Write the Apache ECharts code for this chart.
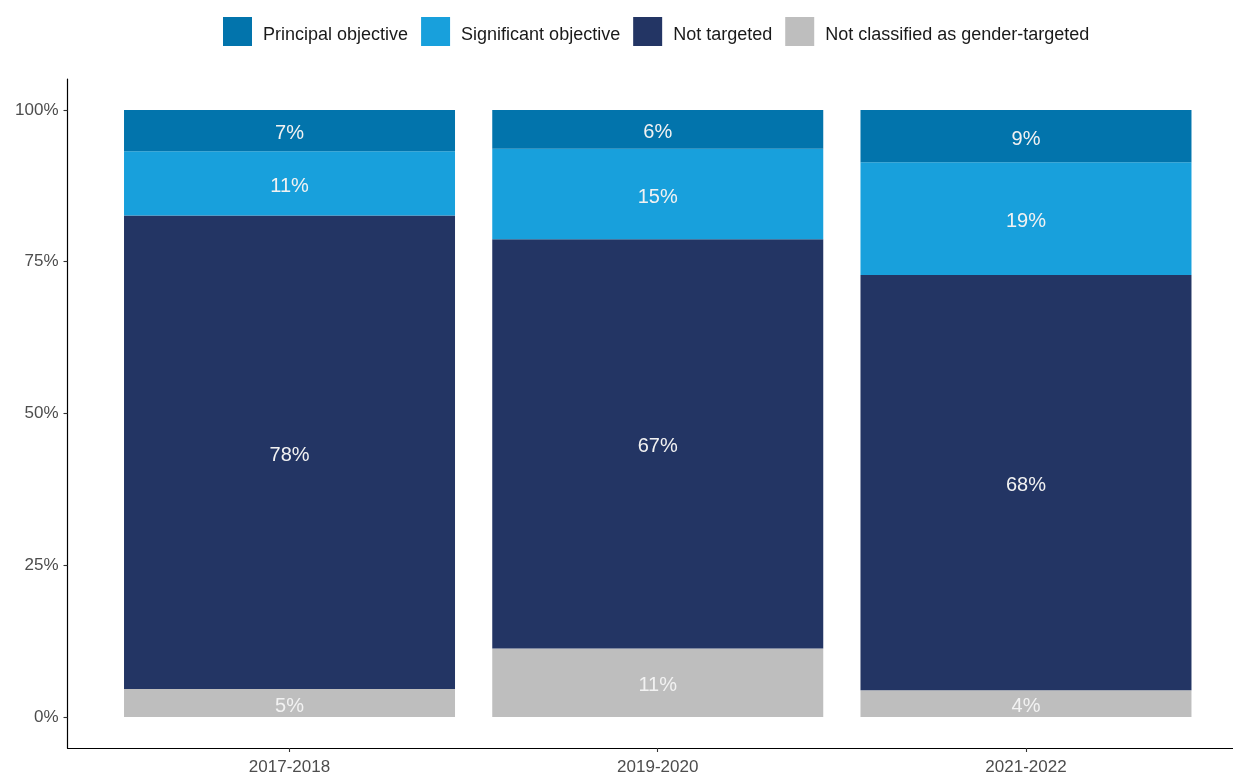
<!DOCTYPE html>
<html>
<head>
<meta charset="utf-8">
<script src="https://cdn.jsdelivr.net/npm/echarts@6/dist/echarts.min.js"></script>
<style>
  html, body { margin: 0; padding: 0; background: #ffffff; }
  #chart { width: 1233px; height: 776px; }
</style>
</head>
<body>
<div id="chart"></div>
<script>
// Share of aid by gender-equality policy marker, per period (percent)
const periods = ['2017-2018', '2019-2020', '2021-2022'];
const principalObjective = [6.8, 6.4, 8.6];
const significantObjective = [10.6, 14.9, 18.6];
const notTargeted = [78.0, 67.4, 68.4];
const notClassified = [4.6, 11.3, 4.4];
const yTicks = [0, 25, 50, 75, 100];

const FONT = "'Liberation Sans', Arial, sans-serif";
const Y_MIN = -5.1;
const Y_MAX = 105.1;

// Stack order, bottom to top
const layers = [
  { name: 'Not classified as gender-targeted', values: notClassified, color: '#BEBEBE' },
  { name: 'Not targeted', values: notTargeted, color: '#233564' },
  { name: 'Significant objective', values: significantObjective, color: '#18A0DC' },
  { name: 'Principal objective', values: principalObjective, color: '#0274AC' }
];

const series = layers.map(function (layer) {
  return {
    name: layer.name,
    type: 'bar',
    stack: 'total',
    xAxisIndex: 1,
    yAxisIndex: 1,
    barWidth: 331,
    itemStyle: { color: layer.color },
    label: {
      show: true,
      position: 'inside',
      offset: [0, 3],
      color: '#F2F2F2',
      fontFamily: FONT,
      fontSize: 20,
      formatter: function (p) { return Math.round(p.value) + '%'; }
    },
    emphasis: { disabled: true },
    data: layer.values
  };
});

const chart = echarts.init(document.getElementById('chart'), null, { renderer: 'canvas' });
chart.setOption({
  animation: false,
  backgroundColor: '#ffffff',
  legend: {
    data: ['Principal objective', 'Significant objective', 'Not targeted', 'Not classified as gender-targeted'],
    left: 223,
    top: 17,
    padding: 0,
    itemWidth: 29,
    itemHeight: 29,
    itemGap: 13,
    icon: 'rect',
    formatter: '{t|{name}}',
    textStyle: {
      fontFamily: FONT,
      fontSize: 18,
      color: '#1A1A1A',
      padding: [0, 0, 0, 6],
      rich: {
        t: { fontFamily: FONT, fontSize: 18, color: '#1A1A1A', padding: [7, 0, 0, 0] }
      }
    }
  },
  grid: [
    // panel frame: carries the axis lines and the percentage scale
    { left: 67.5, right: 0, top: 79, bottom: 28, containLabel: false },
    // bar area: category bands for the three periods
    { left: 105.4, right: 22.9, top: 79, bottom: 28, containLabel: false }
  ],
  xAxis: [
    {
      gridIndex: 0,
      type: 'value',
      min: 0,
      max: 1,
      splitLine: { show: false },
      axisLine: { show: true, onZero: false, lineStyle: { color: '#000000', width: 1.2 } },
      axisTick: { show: false },
      axisLabel: { show: false }
    },
    {
      gridIndex: 1,
      type: 'category',
      data: periods,
      boundaryGap: true,
      splitLine: { show: false },
      axisLine: { show: false, onZero: false },
      axisTick: { show: true, alignWithLabel: true, length: 4, lineStyle: { color: '#333333', width: 1.1 } },
      axisLabel: { margin: 11, fontFamily: FONT, fontSize: 17, color: '#4D4D4D' }
    }
  ],
  yAxis: [
    {
      gridIndex: 0,
      type: 'value',
      min: Y_MIN,
      max: Y_MAX,
      splitLine: { show: false },
      axisLine: { show: true, onZero: false, lineStyle: { color: '#000000', width: 1.2 } },
      axisTick: { show: true, length: 4, customValues: yTicks, lineStyle: { color: '#333333', width: 1.1 } },
      axisLabel: {
        customValues: yTicks,
        margin: 9,
        fontFamily: FONT,
        fontSize: 17,
        color: '#4D4D4D',
        formatter: function (v) { return v + '%'; }
      }
    },
    {
      gridIndex: 1,
      type: 'value',
      min: Y_MIN,
      max: Y_MAX,
      show: false
    }
  ],
  series: series
});
</script>
</body>
</html>
